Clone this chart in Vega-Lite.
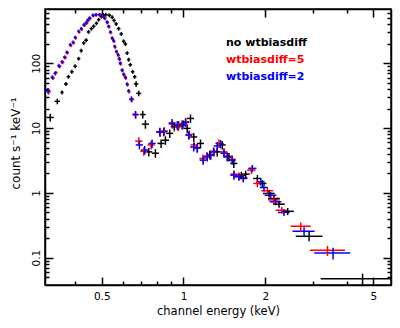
{
"$schema": "https://vega.github.io/schema/vega-lite/v6.json",
"width": 346, "height": 276,
"autosize": {"type": "none"},
"padding": {"left": 45, "top": 9, "right": 9, "bottom": 43},
"background": "white",
"config": {"view": {"stroke": "black", "strokeWidth": 1.5}, "font": "DejaVu Sans"},
"data": {"values": [
{"s":"no wtbiasdiff","e":0.323,"el":0.313,"eh":0.333,"f":14.6,"fl":12.6,"fh":16.6},
{"s":"no wtbiasdiff","e":0.343,"el":0.335,"eh":0.351,"f":25.9,"fl":23.3,"fh":28.5},
{"s":"no wtbiasdiff","e":0.357,"el":0.352,"eh":0.362,"f":35.6,"fl":33.1,"fh":38.1},
{"s":"no wtbiasdiff","e":0.369,"el":0.363,"eh":0.375,"f":48,"fl":44.6,"fh":51.4},
{"s":"no wtbiasdiff","e":0.377,"el":0.371,"eh":0.383,"f":62,"fl":57.7,"fh":66.3},
{"s":"no wtbiasdiff","e":0.388,"el":0.382,"eh":0.394,"f":74,"fl":68.8,"fh":79.2},
{"s":"no wtbiasdiff","e":0.399,"el":0.393,"eh":0.405,"f":90,"fl":83.7,"fh":96.3},
{"s":"no wtbiasdiff","e":0.411,"el":0.405,"eh":0.417,"f":118,"fl":110,"fh":126},
{"s":"no wtbiasdiff","e":0.420,"el":0.414,"eh":0.426,"f":157,"fl":146,"fh":168},
{"s":"no wtbiasdiff","e":0.429,"el":0.423,"eh":0.435,"f":206,"fl":192,"fh":220},
{"s":"no wtbiasdiff","e":0.438,"el":0.431,"eh":0.445,"f":227,"fl":211,"fh":243},
{"s":"no wtbiasdiff","e":0.447,"el":0.440,"eh":0.454,"f":305,"fl":284,"fh":326},
{"s":"no wtbiasdiff","e":0.458,"el":0.451,"eh":0.465,"f":343,"fl":319,"fh":367},
{"s":"no wtbiasdiff","e":0.467,"el":0.460,"eh":0.474,"f":373,"fl":347,"fh":399},
{"s":"no wtbiasdiff","e":0.478,"el":0.471,"eh":0.485,"f":415,"fl":386,"fh":444},
{"s":"no wtbiasdiff","e":0.487,"el":0.480,"eh":0.494,"f":472,"fl":439,"fh":505},
{"s":"no wtbiasdiff","e":0.498,"el":0.491,"eh":0.505,"f":527,"fl":490,"fh":564},
{"s":"no wtbiasdiff","e":0.507,"el":0.499,"eh":0.515,"f":556,"fl":517,"fh":595},
{"s":"no wtbiasdiff","e":0.518,"el":0.510,"eh":0.526,"f":562,"fl":523,"fh":601},
{"s":"no wtbiasdiff","e":0.533,"el":0.525,"eh":0.541,"f":552,"fl":513,"fh":591},
{"s":"no wtbiasdiff","e":0.546,"el":0.538,"eh":0.554,"f":514,"fl":478,"fh":550},
{"s":"no wtbiasdiff","e":0.555,"el":0.547,"eh":0.563,"f":459,"fl":427,"fh":491},
{"s":"no wtbiasdiff","e":0.565,"el":0.557,"eh":0.573,"f":405,"fl":377,"fh":433},
{"s":"no wtbiasdiff","e":0.577,"el":0.568,"eh":0.586,"f":343,"fl":319,"fh":367},
{"s":"no wtbiasdiff","e":0.590,"el":0.581,"eh":0.599,"f":284,"fl":264,"fh":304},
{"s":"no wtbiasdiff","e":0.602,"el":0.593,"eh":0.611,"f":219,"fl":204,"fh":234},
{"s":"no wtbiasdiff","e":0.611,"el":0.602,"eh":0.620,"f":199,"fl":185,"fh":213},
{"s":"no wtbiasdiff","e":0.620,"el":0.611,"eh":0.629,"f":144,"fl":134,"fh":154},
{"s":"no wtbiasdiff","e":0.628,"el":0.619,"eh":0.637,"f":114,"fl":106,"fh":122},
{"s":"no wtbiasdiff","e":0.637,"el":0.627,"eh":0.647,"f":95,"fl":88.4,"fh":101.6},
{"s":"no wtbiasdiff","e":0.650,"el":0.640,"eh":0.660,"f":74,"fl":68.8,"fh":79.2},
{"s":"no wtbiasdiff","e":0.661,"el":0.651,"eh":0.671,"f":62,"fl":57.7,"fh":66.3},
{"s":"no wtbiasdiff","e":0.669,"el":0.656,"eh":0.682,"f":48,"fl":43.2,"fh":52.8},
{"s":"no wtbiasdiff","e":0.684,"el":0.670,"eh":0.698,"f":34.4,"fl":31.0,"fh":37.8},
{"s":"no wtbiasdiff","e":0.708,"el":0.690,"eh":0.726,"f":16.2,"fl":14.1,"fh":18.3},
{"s":"no wtbiasdiff","e":0.724,"el":0.702,"eh":0.746,"f":11.5,"fl":9.78,"fh":13.2},
{"s":"no wtbiasdiff","e":0.745,"el":0.723,"eh":0.767,"f":4.3,"fl":3.66,"fh":4.95},
{"s":"no wtbiasdiff","e":0.788,"el":0.764,"eh":0.812,"f":4.1,"fl":3.49,"fh":4.72},
{"s":"no wtbiasdiff","e":0.827,"el":0.802,"eh":0.852,"f":5.8,"fl":4.93,"fh":6.67},
{"s":"no wtbiasdiff","e":0.858,"el":0.832,"eh":0.884,"f":6.5,"fl":5.53,"fh":7.48},
{"s":"no wtbiasdiff","e":0.890,"el":0.863,"eh":0.917,"f":8.3,"fl":7.06,"fh":9.55},
{"s":"no wtbiasdiff","e":0.925,"el":0.897,"eh":0.953,"f":10.5,"fl":8.93,"fh":12.1},
{"s":"no wtbiasdiff","e":0.960,"el":0.931,"eh":0.989,"f":11.1,"fl":9.44,"fh":12.8},
{"s":"no wtbiasdiff","e":0.995,"el":0.965,"eh":1.025,"f":11.5,"fl":9.78,"fh":13.2},
{"s":"no wtbiasdiff","e":1.032,"el":1.001,"eh":1.063,"f":9.9,"fl":8.42,"fh":11.4},
{"s":"no wtbiasdiff","e":1.061,"el":1.029,"eh":1.093,"f":14.1,"fl":12.0,"fh":16.2},
{"s":"no wtbiasdiff","e":1.091,"el":1.058,"eh":1.124,"f":7.3,"fl":6.21,"fh":8.40},
{"s":"no wtbiasdiff","e":1.155,"el":1.120,"eh":1.190,"f":5.8,"fl":4.93,"fh":6.67},
{"s":"no wtbiasdiff","e":1.25,"el":1.213,"eh":1.288,"f":3.9,"fl":3.32,"fh":4.49},
{"s":"no wtbiasdiff","e":1.331,"el":1.291,"eh":1.371,"f":4.3,"fl":3.66,"fh":4.95},
{"s":"no wtbiasdiff","e":1.389,"el":1.347,"eh":1.431,"f":5.5,"fl":4.68,"fh":6.33},
{"s":"no wtbiasdiff","e":1.47,"el":1.426,"eh":1.514,"f":3.6,"fl":3.06,"fh":4.14},
{"s":"no wtbiasdiff","e":1.533,"el":1.487,"eh":1.579,"f":2.85,"fl":2.42,"fh":3.28},
{"s":"no wtbiasdiff","e":1.633,"el":1.576,"eh":1.690,"f":1.88,"fl":1.64,"fh":2.12},
{"s":"no wtbiasdiff","e":1.694,"el":1.635,"eh":1.753,"f":1.95,"fl":1.70,"fh":2.20},
{"s":"no wtbiasdiff","e":1.871,"el":1.806,"eh":1.936,"f":1.67,"fl":1.45,"fh":1.89},
{"s":"no wtbiasdiff","e":1.952,"el":1.884,"eh":2.020,"f":1.40,"fl":1.22,"fh":1.58},
{"s":"no wtbiasdiff","e":2.065,"el":1.962,"eh":2.168,"f":0.98,"fl":0.86,"fh":1.10},
{"s":"no wtbiasdiff","e":2.154,"el":2.046,"eh":2.262,"f":0.82,"fl":0.72,"fh":0.92},
{"s":"no wtbiasdiff","e":2.248,"el":2.136,"eh":2.360,"f":0.67,"fl":0.59,"fh":0.75},
{"s":"no wtbiasdiff","e":2.42,"el":2.30,"eh":2.55,"f":0.52,"fl":0.455,"fh":0.585},
{"s":"no wtbiasdiff","e":2.90,"el":2.59,"eh":3.25,"f":0.214,"fl":0.18,"fh":0.25},
{"s":"no wtbiasdiff","e":4.565,"el":3.20,"eh":6.5,"f":0.0475,"fl":0.038,"fh":0.0568},
{"s":"wtbiasdiff=5","e":0.319,"el":0.313,"eh":0.325,"f":36.5,"fl":32.9,"fh":40.2},
{"s":"wtbiasdiff=5","e":0.331,"el":0.326,"eh":0.336,"f":59,"fl":55.5,"fh":62.5},
{"s":"wtbiasdiff=5","e":0.339,"el":0.334,"eh":0.344,"f":72,"fl":67.7,"fh":76.3},
{"s":"wtbiasdiff=5","e":0.350,"el":0.345,"eh":0.355,"f":89,"fl":83.7,"fh":94.3},
{"s":"wtbiasdiff=5","e":0.359,"el":0.354,"eh":0.364,"f":103,"fl":96.8,"fh":109.2},
{"s":"wtbiasdiff=5","e":0.367,"el":0.362,"eh":0.372,"f":122,"fl":114.7,"fh":129.3},
{"s":"wtbiasdiff=5","e":0.374,"el":0.369,"eh":0.379,"f":145,"fl":136,"fh":154},
{"s":"wtbiasdiff=5","e":0.385,"el":0.380,"eh":0.390,"f":188,"fl":177,"fh":199},
{"s":"wtbiasdiff=5","e":0.394,"el":0.389,"eh":0.399,"f":206,"fl":194,"fh":218},
{"s":"wtbiasdiff=5","e":0.401,"el":0.396,"eh":0.406,"f":245,"fl":230,"fh":260},
{"s":"wtbiasdiff=5","e":0.413,"el":0.408,"eh":0.418,"f":303,"fl":285,"fh":321},
{"s":"wtbiasdiff=5","e":0.422,"el":0.417,"eh":0.427,"f":336,"fl":316,"fh":356},
{"s":"wtbiasdiff=5","e":0.432,"el":0.426,"eh":0.438,"f":385,"fl":362,"fh":408},
{"s":"wtbiasdiff=5","e":0.440,"el":0.434,"eh":0.446,"f":415,"fl":390,"fh":440},
{"s":"wtbiasdiff=5","e":0.446,"el":0.440,"eh":0.452,"f":458,"fl":431,"fh":485},
{"s":"wtbiasdiff=5","e":0.453,"el":0.447,"eh":0.459,"f":492,"fl":462,"fh":522},
{"s":"wtbiasdiff=5","e":0.466,"el":0.460,"eh":0.472,"f":545,"fl":512,"fh":578},
{"s":"wtbiasdiff=5","e":0.478,"el":0.472,"eh":0.484,"f":560,"fl":526,"fh":594},
{"s":"wtbiasdiff=5","e":0.492,"el":0.486,"eh":0.498,"f":560,"fl":526,"fh":594},
{"s":"wtbiasdiff=5","e":0.503,"el":0.496,"eh":0.510,"f":545,"fl":512,"fh":578},
{"s":"wtbiasdiff=5","e":0.514,"el":0.507,"eh":0.521,"f":492,"fl":462,"fh":522},
{"s":"wtbiasdiff=5","e":0.525,"el":0.518,"eh":0.532,"f":425,"fl":400,"fh":450},
{"s":"wtbiasdiff=5","e":0.532,"el":0.525,"eh":0.539,"f":365,"fl":343,"fh":387},
{"s":"wtbiasdiff=5","e":0.540,"el":0.533,"eh":0.547,"f":298,"fl":280,"fh":316},
{"s":"wtbiasdiff=5","e":0.548,"el":0.541,"eh":0.555,"f":240,"fl":226,"fh":254},
{"s":"wtbiasdiff=5","e":0.555,"el":0.548,"eh":0.562,"f":218,"fl":205,"fh":231},
{"s":"wtbiasdiff=5","e":0.560,"el":0.553,"eh":0.567,"f":178,"fl":167,"fh":189},
{"s":"wtbiasdiff=5","e":0.568,"el":0.561,"eh":0.575,"f":150,"fl":141,"fh":159},
{"s":"wtbiasdiff=5","e":0.576,"el":0.569,"eh":0.583,"f":132,"fl":124,"fh":140},
{"s":"wtbiasdiff=5","e":0.582,"el":0.574,"eh":0.590,"f":115,"fl":108,"fh":122},
{"s":"wtbiasdiff=5","e":0.587,"el":0.579,"eh":0.595,"f":98,"fl":92,"fh":104},
{"s":"wtbiasdiff=5","e":0.596,"el":0.588,"eh":0.604,"f":77,"fl":72.4,"fh":81.6},
{"s":"wtbiasdiff=5","e":0.604,"el":0.596,"eh":0.612,"f":66,"fl":62.0,"fh":70.0},
{"s":"wtbiasdiff=5","e":0.613,"el":0.605,"eh":0.621,"f":59,"fl":55.5,"fh":62.5},
{"s":"wtbiasdiff=5","e":0.622,"el":0.614,"eh":0.630,"f":46.5,"fl":43.7,"fh":49.3},
{"s":"wtbiasdiff=5","e":0.630,"el":0.622,"eh":0.638,"f":36.5,"fl":34.3,"fh":38.7},
{"s":"wtbiasdiff=5","e":0.645,"el":0.632,"eh":0.658,"f":27.5,"fl":24.8,"fh":30.3},
{"s":"wtbiasdiff=5","e":0.667,"el":0.650,"eh":0.684,"f":16.0,"fl":13.9,"fh":18.1},
{"s":"wtbiasdiff=5","e":0.685,"el":0.664,"eh":0.706,"f":6.3,"fl":5.36,"fh":7.25},
{"s":"wtbiasdiff=5","e":0.714,"el":0.693,"eh":0.735,"f":4.4,"fl":3.74,"fh":5.06},
{"s":"wtbiasdiff=5","e":0.76,"el":0.737,"eh":0.783,"f":5.5,"fl":4.68,"fh":6.33},
{"s":"wtbiasdiff=5","e":0.82,"el":0.795,"eh":0.845,"f":8.6,"fl":7.31,"fh":9.89},
{"s":"wtbiasdiff=5","e":0.85,"el":0.825,"eh":0.876,"f":9.0,"fl":7.65,"fh":10.35},
{"s":"wtbiasdiff=5","e":0.91,"el":0.883,"eh":0.937,"f":11.5,"fl":9.78,"fh":13.2},
{"s":"wtbiasdiff=5","e":0.955,"el":0.926,"eh":0.984,"f":10.5,"fl":8.93,"fh":12.1},
{"s":"wtbiasdiff=5","e":0.99,"el":0.960,"eh":1.020,"f":11.5,"fl":9.78,"fh":13.2},
{"s":"wtbiasdiff=5","e":1.02,"el":0.989,"eh":1.051,"f":12.5,"fl":10.6,"fh":14.4},
{"s":"wtbiasdiff=5","e":1.05,"el":1.019,"eh":1.082,"f":8.0,"fl":6.8,"fh":9.2},
{"s":"wtbiasdiff=5","e":1.095,"el":1.062,"eh":1.128,"f":5.5,"fl":4.68,"fh":6.33},
{"s":"wtbiasdiff=5","e":1.125,"el":1.091,"eh":1.159,"f":5.0,"fl":4.25,"fh":5.75},
{"s":"wtbiasdiff=5","e":1.18,"el":1.145,"eh":1.215,"f":3.4,"fl":2.89,"fh":3.91},
{"s":"wtbiasdiff=5","e":1.22,"el":1.183,"eh":1.257,"f":3.7,"fl":3.15,"fh":4.26},
{"s":"wtbiasdiff=5","e":1.26,"el":1.222,"eh":1.298,"f":3.9,"fl":3.32,"fh":4.49},
{"s":"wtbiasdiff=5","e":1.29,"el":1.251,"eh":1.329,"f":4.4,"fl":3.74,"fh":5.06},
{"s":"wtbiasdiff=5","e":1.35,"el":1.310,"eh":1.391,"f":5.8,"fl":4.93,"fh":6.67},
{"s":"wtbiasdiff=5","e":1.41,"el":1.368,"eh":1.452,"f":4.3,"fl":3.66,"fh":4.95},
{"s":"wtbiasdiff=5","e":1.45,"el":1.407,"eh":1.494,"f":3.7,"fl":3.15,"fh":4.26},
{"s":"wtbiasdiff=5","e":1.51,"el":1.465,"eh":1.555,"f":3.3,"fl":2.81,"fh":3.80},
{"s":"wtbiasdiff=5","e":1.535,"el":1.489,"eh":1.581,"f":1.95,"fl":1.66,"fh":2.24},
{"s":"wtbiasdiff=5","e":1.60,"el":1.544,"eh":1.656,"f":1.82,"fl":1.58,"fh":2.06},
{"s":"wtbiasdiff=5","e":1.66,"el":1.602,"eh":1.718,"f":1.72,"fl":1.50,"fh":1.94},
{"s":"wtbiasdiff=5","e":1.778,"el":1.716,"eh":1.840,"f":2.25,"fl":1.96,"fh":2.54},
{"s":"wtbiasdiff=5","e":1.871,"el":1.806,"eh":1.936,"f":1.40,"fl":1.22,"fh":1.58},
{"s":"wtbiasdiff=5","e":2.037,"el":1.935,"eh":2.139,"f":1.08,"fl":0.95,"fh":1.21},
{"s":"wtbiasdiff=5","e":2.154,"el":2.046,"eh":2.262,"f":0.78,"fl":0.686,"fh":0.874},
{"s":"wtbiasdiff=5","e":2.30,"el":2.185,"eh":2.415,"f":0.54,"fl":0.475,"fh":0.605},
{"s":"wtbiasdiff=5","e":2.703,"el":2.48,"eh":2.94,"f":0.306,"fl":0.25,"fh":0.35},
{"s":"wtbiasdiff=5","e":3.391,"el":2.92,"eh":3.93,"f":0.130,"fl":0.106,"fh":0.152},
{"s":"wtbiasdiff=2","e":0.317,"el":0.311,"eh":0.323,"f":37.7,"fl":33.9,"fh":41.5},
{"s":"wtbiasdiff=2","e":0.329,"el":0.324,"eh":0.334,"f":61,"fl":56.7,"fh":65.3},
{"s":"wtbiasdiff=2","e":0.337,"el":0.332,"eh":0.342,"f":70,"fl":65.1,"fh":74.9},
{"s":"wtbiasdiff=2","e":0.348,"el":0.343,"eh":0.353,"f":92,"fl":85.6,"fh":98.4},
{"s":"wtbiasdiff=2","e":0.357,"el":0.352,"eh":0.362,"f":106,"fl":99.6,"fh":112.4},
{"s":"wtbiasdiff=2","e":0.365,"el":0.360,"eh":0.370,"f":125,"fl":117.5,"fh":132.5},
{"s":"wtbiasdiff=2","e":0.372,"el":0.367,"eh":0.377,"f":148,"fl":139,"fh":157},
{"s":"wtbiasdiff=2","e":0.383,"el":0.378,"eh":0.388,"f":194,"fl":182,"fh":206},
{"s":"wtbiasdiff=2","e":0.392,"el":0.387,"eh":0.397,"f":211,"fl":198,"fh":224},
{"s":"wtbiasdiff=2","e":0.399,"el":0.394,"eh":0.404,"f":252,"fl":237,"fh":267},
{"s":"wtbiasdiff=2","e":0.411,"el":0.406,"eh":0.416,"f":312,"fl":293,"fh":331},
{"s":"wtbiasdiff=2","e":0.420,"el":0.415,"eh":0.425,"f":343,"fl":322,"fh":364},
{"s":"wtbiasdiff=2","e":0.430,"el":0.424,"eh":0.436,"f":395,"fl":371,"fh":419},
{"s":"wtbiasdiff=2","e":0.438,"el":0.432,"eh":0.444,"f":424,"fl":399,"fh":449},
{"s":"wtbiasdiff=2","e":0.444,"el":0.438,"eh":0.450,"f":465,"fl":437,"fh":493},
{"s":"wtbiasdiff=2","e":0.451,"el":0.445,"eh":0.457,"f":501,"fl":471,"fh":531},
{"s":"wtbiasdiff=2","e":0.464,"el":0.458,"eh":0.470,"f":552,"fl":519,"fh":585},
{"s":"wtbiasdiff=2","e":0.476,"el":0.470,"eh":0.482,"f":564,"fl":530,"fh":598},
{"s":"wtbiasdiff=2","e":0.490,"el":0.484,"eh":0.496,"f":564,"fl":530,"fh":598},
{"s":"wtbiasdiff=2","e":0.501,"el":0.494,"eh":0.508,"f":552,"fl":519,"fh":585},
{"s":"wtbiasdiff=2","e":0.512,"el":0.505,"eh":0.519,"f":501,"fl":471,"fh":531},
{"s":"wtbiasdiff=2","e":0.523,"el":0.516,"eh":0.530,"f":435,"fl":409,"fh":461},
{"s":"wtbiasdiff=2","e":0.530,"el":0.523,"eh":0.537,"f":373,"fl":351,"fh":395},
{"s":"wtbiasdiff=2","e":0.538,"el":0.531,"eh":0.545,"f":305,"fl":287,"fh":323},
{"s":"wtbiasdiff=2","e":0.546,"el":0.539,"eh":0.553,"f":246,"fl":231,"fh":261},
{"s":"wtbiasdiff=2","e":0.553,"el":0.546,"eh":0.560,"f":224,"fl":211,"fh":237},
{"s":"wtbiasdiff=2","e":0.558,"el":0.551,"eh":0.565,"f":183,"fl":172,"fh":194},
{"s":"wtbiasdiff=2","e":0.566,"el":0.559,"eh":0.573,"f":153,"fl":144,"fh":162},
{"s":"wtbiasdiff=2","e":0.574,"el":0.567,"eh":0.581,"f":136,"fl":128,"fh":144},
{"s":"wtbiasdiff=2","e":0.580,"el":0.572,"eh":0.588,"f":118,"fl":111,"fh":125},
{"s":"wtbiasdiff=2","e":0.585,"el":0.577,"eh":0.593,"f":101,"fl":95,"fh":107},
{"s":"wtbiasdiff=2","e":0.594,"el":0.586,"eh":0.602,"f":79,"fl":74.3,"fh":83.7},
{"s":"wtbiasdiff=2","e":0.602,"el":0.594,"eh":0.610,"f":68,"fl":63.9,"fh":72.1},
{"s":"wtbiasdiff=2","e":0.611,"el":0.603,"eh":0.619,"f":61,"fl":57.3,"fh":64.7},
{"s":"wtbiasdiff=2","e":0.620,"el":0.612,"eh":0.628,"f":48,"fl":45.1,"fh":50.9},
{"s":"wtbiasdiff=2","e":0.628,"el":0.620,"eh":0.636,"f":37.7,"fl":35.4,"fh":40.0},
{"s":"wtbiasdiff=2","e":0.643,"el":0.630,"eh":0.656,"f":28.1,"fl":25.3,"fh":30.9},
{"s":"wtbiasdiff=2","e":0.665,"el":0.648,"eh":0.682,"f":16.3,"fl":14.2,"fh":18.4},
{"s":"wtbiasdiff=2","e":0.688,"el":0.667,"eh":0.709,"f":5.5,"fl":4.68,"fh":6.33},
{"s":"wtbiasdiff=2","e":0.720,"el":0.698,"eh":0.742,"f":4.6,"fl":3.91,"fh":5.29},
{"s":"wtbiasdiff=2","e":0.766,"el":0.743,"eh":0.789,"f":5.8,"fl":4.93,"fh":6.67},
{"s":"wtbiasdiff=2","e":0.818,"el":0.793,"eh":0.843,"f":8.8,"fl":7.48,"fh":10.12},
{"s":"wtbiasdiff=2","e":0.846,"el":0.821,"eh":0.871,"f":8.8,"fl":7.48,"fh":10.12},
{"s":"wtbiasdiff=2","e":0.908,"el":0.881,"eh":0.935,"f":12.0,"fl":10.2,"fh":13.8},
{"s":"wtbiasdiff=2","e":0.948,"el":0.920,"eh":0.976,"f":11.1,"fl":9.44,"fh":12.77},
{"s":"wtbiasdiff=2","e":0.989,"el":0.959,"eh":1.019,"f":11.1,"fl":9.44,"fh":12.77},
{"s":"wtbiasdiff=2","e":1.017,"el":0.986,"eh":1.048,"f":12.2,"fl":10.37,"fh":14.03},
{"s":"wtbiasdiff=2","e":1.046,"el":1.015,"eh":1.077,"f":7.8,"fl":6.63,"fh":8.97},
{"s":"wtbiasdiff=2","e":1.091,"el":1.058,"eh":1.124,"f":5.1,"fl":4.34,"fh":5.87},
{"s":"wtbiasdiff=2","e":1.123,"el":1.089,"eh":1.157,"f":4.9,"fl":4.17,"fh":5.64},
{"s":"wtbiasdiff=2","e":1.182,"el":1.147,"eh":1.217,"f":3.2,"fl":2.72,"fh":3.68},
{"s":"wtbiasdiff=2","e":1.223,"el":1.186,"eh":1.260,"f":3.6,"fl":3.06,"fh":4.14},
{"s":"wtbiasdiff=2","e":1.258,"el":1.220,"eh":1.296,"f":3.8,"fl":3.23,"fh":4.37},
{"s":"wtbiasdiff=2","e":1.294,"el":1.255,"eh":1.333,"f":4.3,"fl":3.66,"fh":4.95},
{"s":"wtbiasdiff=2","e":1.331,"el":1.291,"eh":1.371,"f":5.3,"fl":4.51,"fh":6.10},
{"s":"wtbiasdiff=2","e":1.369,"el":1.328,"eh":1.410,"f":5.7,"fl":4.85,"fh":6.56},
{"s":"wtbiasdiff=2","e":1.41,"el":1.368,"eh":1.452,"f":4.1,"fl":3.49,"fh":4.72},
{"s":"wtbiasdiff=2","e":1.45,"el":1.407,"eh":1.494,"f":3.6,"fl":3.06,"fh":4.14},
{"s":"wtbiasdiff=2","e":1.512,"el":1.467,"eh":1.557,"f":3.2,"fl":2.72,"fh":3.68},
{"s":"wtbiasdiff=2","e":1.533,"el":1.487,"eh":1.579,"f":1.88,"fl":1.60,"fh":2.16},
{"s":"wtbiasdiff=2","e":1.60,"el":1.544,"eh":1.656,"f":1.77,"fl":1.54,"fh":2.00},
{"s":"wtbiasdiff=2","e":1.661,"el":1.603,"eh":1.719,"f":1.67,"fl":1.45,"fh":1.89},
{"s":"wtbiasdiff=2","e":1.793,"el":1.730,"eh":1.856,"f":2.39,"fl":2.08,"fh":2.70},
{"s":"wtbiasdiff=2","e":1.924,"el":1.857,"eh":1.991,"f":1.48,"fl":1.29,"fh":1.67},
{"s":"wtbiasdiff=2","e":1.979,"el":1.910,"eh":2.048,"f":1.21,"fl":1.05,"fh":1.37},
{"s":"wtbiasdiff=2","e":2.094,"el":1.989,"eh":2.199,"f":0.92,"fl":0.81,"fh":1.03},
{"s":"wtbiasdiff=2","e":2.185,"el":2.076,"eh":2.294,"f":0.73,"fl":0.642,"fh":0.818},
{"s":"wtbiasdiff=2","e":2.345,"el":2.228,"eh":2.462,"f":0.50,"fl":0.44,"fh":0.56},
{"s":"wtbiasdiff=2","e":2.78,"el":2.52,"eh":3.04,"f":0.256,"fl":0.215,"fh":0.295},
{"s":"wtbiasdiff=2","e":3.555,"el":3.03,"eh":4.11,"f":0.118,"fl":0.094,"fh":0.142}
]},
"layer": [
{"mark": {"type": "rule", "strokeWidth": 1.5, "clip": true},
 "encoding": {
  "x": {"field": "el", "type": "quantitative",
        "scale": {"type": "log", "domain": [0.309, 5.81], "nice": false},
        "axis": {"orient": "bottom", "values": [0.4,0.5,0.6,0.7,0.8,0.9,1,2,3,4,5], "format": "~g",
                 "labelExpr": "indexof([0.5,1,2,5], datum.value) >= 0 ? datum.label : ''",
                 "tickSize": {"condition": {"test": "indexof([0.5,1,2,5], datum.value) >= 0", "value": -8}, "value": -4},
                 "tickColor": "black", "tickWidth": 1.5, "domainColor": "black", "domainWidth": 1.5, "grid": false,
                 "labelFont": "DejaVu Sans", "labelFontSize": 10.5, "labelColor": "black", "labelPadding": 14,
                 "labelFlush": false, "labelOverlap": false,
                 "title": "channel energy (keV)", "titleFont": "DejaVu Sans", "titleFontSize": 11.5, "titleFontWeight": "normal",
                 "titleColor": "black", "titleY": 29, "titleBaseline": "alphabetic"}},
  "x2": {"field": "eh"},
  "y": {"field": "f", "type": "quantitative",
        "scale": {"type": "log", "domain": [0.0379, 689], "nice": false},
        "axis": {"orient": "left", "values": [0.05,0.06,0.07,0.08,0.09,0.1,0.2,0.3,0.4,0.5,0.6,0.7,0.8,0.9,1,2,3,4,5,6,7,8,9,10,20,30,40,50,60,70,80,90,100,200,300,400,500,600], "format": "~g",
                 "labelExpr": "indexof([0.1,1,10,100], datum.value) >= 0 ? datum.label : ''",
                 "tickSize": {"condition": {"test": "indexof([0.1,1,10,100], datum.value) >= 0", "value": -8}, "value": -4},
                 "tickColor": "black", "tickWidth": 1.5, "domainColor": "black", "domainWidth": 1.5, "grid": false,
                 "labelFont": "DejaVu Sans", "labelFontSize": 10.5, "labelColor": "black", "labelPadding": 13.5,
                 "labelAngle": 270, "labelAlign": "center", "labelBaseline": "alphabetic",
                 "labelFlush": false, "labelOverlap": false,
                 "title": "count s⁻¹ keV⁻¹", "titleFont": "DejaVu Sans", "titleFontSize": 12, "titleFontWeight": "normal",
                 "titleColor": "black", "titleX": -26, "titleY": 134, "titleAngle": 270, "titleAlign": "center", "titleBaseline": "alphabetic"}},
  "color": {"field": "s", "type": "nominal",
            "scale": {"domain": ["no wtbiasdiff", "wtbiasdiff=5", "wtbiasdiff=2"], "range": ["#000000", "#ff0000", "#0000ff"]},
            "legend": {"title": null, "orient": "none", "legendX": 170, "legendY": 28,
                       "symbolSize": 0, "symbolStrokeWidth": 0, "symbolOpacity": 0, "labelOffset": 0, "padding": 0,
                       "rowPadding": 5, "labelFont": "DejaVu Sans", "labelFontSize": 11, "labelFontWeight": "bold",
                       "labelBaseline": "middle",
                       "encode": {"labels": {"update": {"fill": {"scale": "color", "field": "value"}}}}}}
 }},
{"mark": {"type": "rule", "strokeWidth": 1.5, "clip": true},
 "encoding": {
  "x": {"field": "e", "type": "quantitative",
        "axis": {"orient": "top", "values": [0.4,0.5,0.6,0.7,0.8,0.9,1,2,3,4,5], "labels": false, "title": null,
                 "tickSize": {"condition": {"test": "indexof([0.5,1,2,5], datum.value) >= 0", "value": -8}, "value": -4},
                 "tickColor": "black", "tickWidth": 1.5, "domainColor": "black", "domainWidth": 1.5, "grid": false}},
  "y": {"field": "fl", "type": "quantitative",
        "axis": {"orient": "right", "values": [0.05,0.06,0.07,0.08,0.09,0.1,0.2,0.3,0.4,0.5,0.6,0.7,0.8,0.9,1,2,3,4,5,6,7,8,9,10,20,30,40,50,60,70,80,90,100,200,300,400,500,600], "labels": false, "title": null,
                 "tickSize": {"condition": {"test": "indexof([0.1,1,10,100], datum.value) >= 0", "value": -8}, "value": -4},
                 "tickColor": "black", "tickWidth": 1.5, "domainColor": "black", "domainWidth": 1.5, "grid": false}},
  "y2": {"field": "fh"},
  "color": {"field": "s", "type": "nominal"}
 }}
],
"resolve": {"axis": {"x": "independent", "y": "independent"}}
}
